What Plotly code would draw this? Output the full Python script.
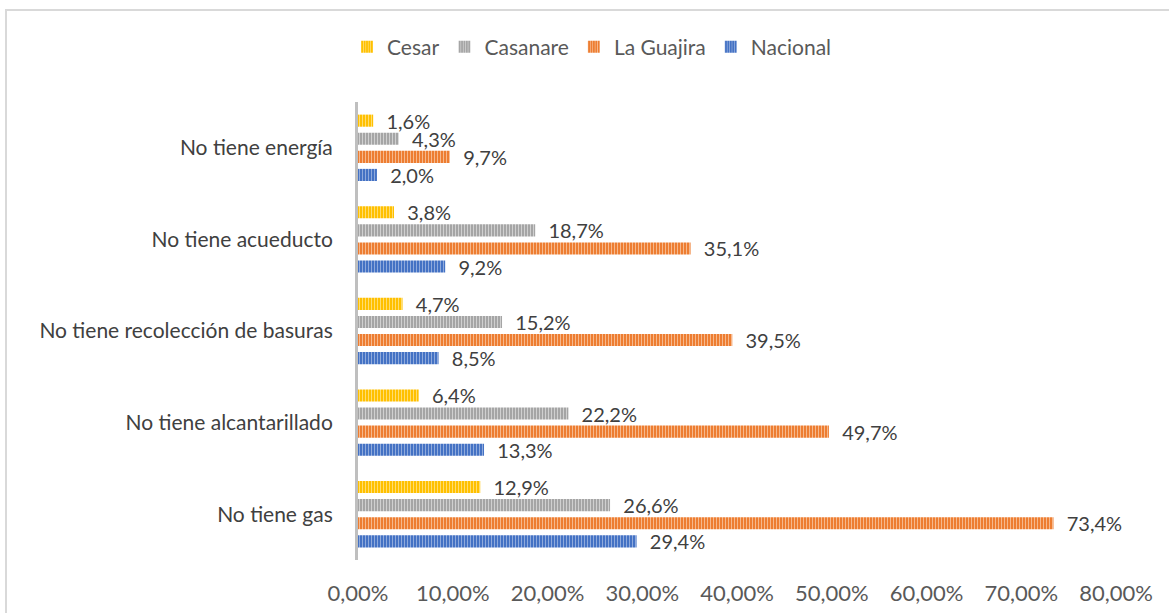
import plotly.graph_objects as go

categories = ["No tiene energía", "No tiene acueducto", "No tiene recolección de basuras",
              "No tiene alcantarillado", "No tiene gas"]
cesar = [0.016, 0.038, 0.047, 0.064, 0.129]
casanare = [0.043, 0.187, 0.152, 0.222, 0.266]
guajira = [0.097, 0.351, 0.395, 0.497, 0.734]
nacional = [0.020, 0.092, 0.085, 0.133, 0.294]
tick_vals = [0, 0.1, 0.2, 0.3, 0.4, 0.5, 0.6, 0.7, 0.8]

series = [
    ("Cesar", cesar, "#FFC000", "#FFDD70"),
    ("Casanare", casanare, "#A5A5A5", "#D0D0D0"),
    ("La Guajira", guajira, "#ED7D31", "#F6B88C"),
    ("Nacional", nacional, "#4472C4", "#8FAADC"),
]

FONT = "Lato, Open Sans, sans-serif"
fig = go.Figure()
for name, vals, col, light in series:
    fig.add_trace(go.Bar(
        y=categories, x=vals, name=name, orientation="h",
        marker=dict(color=col, line=dict(width=0),
                    pattern=dict(shape="|", bgcolor=col, fgcolor=light,
                                 size=3, solidity=0.35, fillmode="replace")),
        texttemplate="\u00a0\u00a0%{x:.1%}", textposition="outside",
        constraintext="none",
        textfont=dict(size=20, color="#404040", family=FONT),
        cliponaxis=False,
    ))

L, R, T, B = 358, 53, 102, 53
W, H = 1169, 613
pw, ph = W - L - R, H - T - B

fig.update_layout(
    width=W, height=H,
    barmode="group", bargap=0.21, bargroupgap=0.33,
    separators=",.",
    margin=dict(l=L, r=R, t=T, b=B, autoexpand=False),
    paper_bgcolor="white", plot_bgcolor="white",
    font=dict(family=FONT, color="#595959"),
    legend=dict(orientation="h", x=(592 - L) / pw, xanchor="center",
                y=(H - B - 47) / ph, yanchor="middle",
                font=dict(size=21, color="#595959"), traceorder="normal"),
    xaxis=dict(range=[0, 0.8], tickvals=tick_vals, tickformat=".2%",
               showgrid=False, zeroline=False, showline=False,
               tickfont=dict(size=22, color="#595959"), ticks="", ticklabelstandoff=18),
    yaxis=dict(autorange="reversed", showgrid=False, showline=True,
               linecolor="#BFBFBF", linewidth=3, ticks="",
               tickfont=dict(size=21, color="#404040"), ticklabelstandoff=18),
    shapes=[dict(type="rect", xref="paper", yref="paper",
                 x0=(6 - L) / pw, x1=(1200 - L) / pw,
                 y0=(H - B - 650) / ph, y1=(H - B - 10) / ph,
                 line=dict(color="#D9D9D9", width=2), fillcolor="rgba(0,0,0,0)",
                 layer="below")],
)

fig.write_html("out.html", config={"displayModeBar": False},
               post_script="document.body.style.margin='0';")
